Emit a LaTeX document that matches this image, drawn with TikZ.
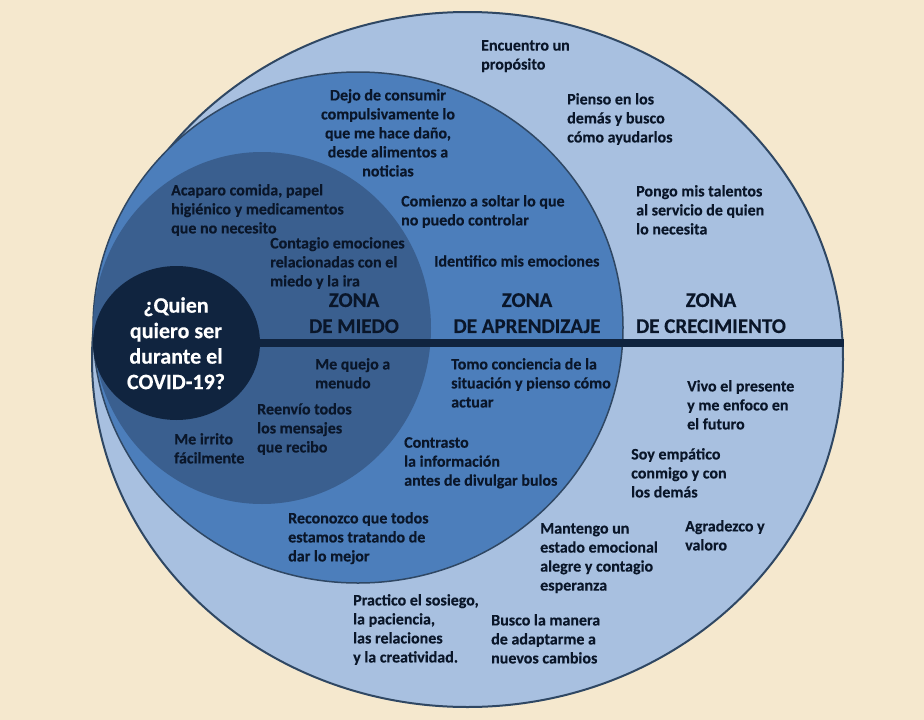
\documentclass[tikz,border=0pt]{standalone}
\usepackage{fontspec}
\setmainfont{Carlito}[BoldFeatures={FakeBold=0.3}]
\usetikzlibrary{shapes.geometric}
\definecolor{bgcream}{HTML}{F5E8CE}
\definecolor{zonegrow}{HTML}{A8C0E0}
\definecolor{zonelearn}{HTML}{4C7EBB}
\definecolor{zonefear}{HTML}{3A5F8F}
\definecolor{coredark}{HTML}{10243F}
\definecolor{rimcol}{HTML}{2F4763}
\definecolor{txtcol}{HTML}{0A1629}
\tikzset{
  zone/.style={ellipse, inner sep=0pt},
  item/.style={anchor=north west, inner sep=0pt, align=left, text=txtcol,
    font=\bfseries\fontsize{16}{19}\selectfont, execute at begin node={\strut}},
  itemc/.style={item, anchor=north, align=center},
  zonelabel/.style={anchor=north, inner sep=0pt, align=center, text=txtcol,
    font=\bfseries\fontsize{21}{26}\selectfont, execute at begin node={\strut}},
}
\begin{document}
\begin{tikzpicture}[x=1pt,y=-1pt]
\useasboundingbox (0,0) rectangle (924,720);
\fill[bgcream] (0,0) rectangle (924,720);
% zones
\node[zone, fill=zonegrow, draw=rimcol, line width=2pt, minimum width=751pt, minimum height=695pt] (outer) at (467.5,359.5) {};
\node[zone, fill=zonelearn, draw=rimcol, line width=1.5pt, minimum width=530pt, minimum height=511pt] (learn) at (358,327.5) {};
\node[zone, fill=zonefear, minimum width=338pt, minimum height=352pt] (fear) at (262,328) {};
\node[zone, fill=coredark, minimum width=167pt, minimum height=154pt] (core) at (176.5,343) {};
\draw[coredark, line width=8pt] (core.east) -- (core.east -| outer.east);
% centre question
\node[anchor=north, inner sep=0pt, align=center, text=white,
  font=\bfseries\fontsize{22}{25.5}\selectfont, execute at begin node={\strut}]
  (question) at (176,297) {¿Quien\\quiero ser\\durante el\\COVID-19?};
% zone labels
\node[zonelabel] (lblfear) at (354,293) {ZONA\\DE MIEDO};
\node[zonelabel] (lbllearn) at (527,293) {ZONA\\DE APRENDIZAJE};
\node[zonelabel] (lblgrow) at (711,293) {ZONA\\DE CRECIMIENTO};
% upper items
\node[itemc] (dejo) at (388,89) {Dejo de consumir\\compulsivamente lo\\que me hace daño,\\desde alimentos a\\noticias};
\node[item] (acaparo) at (171,184) {Acaparo comida, papel\\higiénico y medicamentos\\que no necesito};
\node[item] (contagio) at (270,237) {Contagio emociones\\relacionadas con el\\miedo y la ira};
\node[item] (comienzo) at (401,195) {Comienzo a soltar lo que\\no puedo controlar};
\node[item] (identifico) at (434,253) {Identifico mis emociones};
\node[item] (encuentro) at (481,40) {Encuentro un\\propósito};
\node[item] (pienso) at (567,93) {Pienso en los\\demás y busco\\cómo ayudarlos};
\node[item] (pongo) at (636,185) {Pongo mis talentos\\al servicio de quien\\lo necesita};
% lower items
\node[item] (quejo) at (315,358) {Me quejo a\\menudo};
\node[item] (reenvio) at (257,403) {Reenvío todos\\los mensajes\\que recibo};
\node[item] (irrito) at (174,433) {Me irrito\\fácilmente};
\node[item] (tomo) at (451,358) {Tomo conciencia de la\\situación y pienso cómo\\actuar};
\node[item] (contrasto) at (404,437) {Contrasto\\la información\\antes de divulgar bulos};
\node[item] (reconozco) at (288,512) {Reconozco que todos\\estamos tratando de\\dar lo mejor};
\node[item] (practico) at (353,594) {Practico el sosiego,\\la paciencia,\\las relaciones\\y la creatividad.};
\node[item] (busco) at (491,614) {Busco la manera\\de adaptarme a\\nuevos cambios};
\node[item] (mantengo) at (540,523) {Mantengo un\\estado emocional\\alegre y contagio\\esperanza};
\node[item] (agradezco) at (685,520) {Agradezco y\\valoro};
\node[item] (soy) at (631,448) {Soy empático\\conmigo y con\\los demás};
\node[item] (vivo) at (687,380) {Vivo el presente\\y me enfoco en\\el futuro};
\end{tikzpicture}
\end{document}
